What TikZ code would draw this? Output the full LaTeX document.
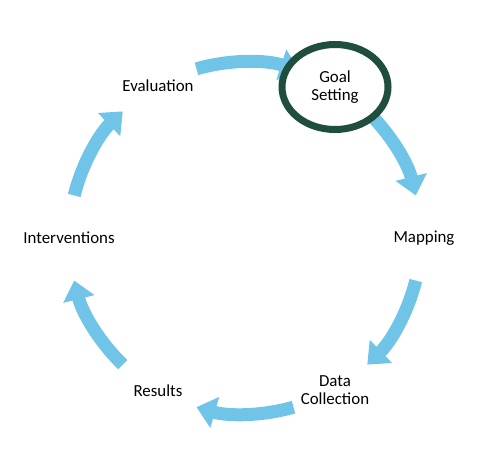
\documentclass[tikz,border=0pt]{standalone}
\usepackage{fontspec}
\setmainfont{Carlito}
\usepackage{xcolor}
\usepackage{tikz}
\usetikzlibrary{shapes,arrows.meta,positioning}

\definecolor{cycleblue}{RGB}{112,196,232}
\definecolor{ringgreen}{RGB}{31,78,60}

\begin{document}
\begin{tikzpicture}[
    stage/.style={font=\fontsize{9.6}{10.6}\selectfont, align=center},
    cyclearrow/.style={draw=cycleblue, line width=0.26cm, -{Triangle[length=0.38cm, width=0.62cm]}},
    goalring/.style={stage, ellipse, draw=ringgreen, fill=white, line width=0.14cm, minimum width=2.12cm, minimum height=1.7cm, inner sep=0pt}
]
\useasboundingbox (0,0) rectangle (10,9);
\coordinate (ctr) at (4.9, 4.24);

% Cycle arrows
\draw[cyclearrow] ([shift={(106:3.52)}]ctr) arc[start angle=106, end angle=72, radius=3.52];
\draw[cyclearrow] ([shift={(46:3.52)}]ctr) arc[start angle=46, end angle=14, radius=3.52];
\draw[cyclearrow] ([shift={(-14:3.52)}]ctr) arc[start angle=-14, end angle=-46, radius=3.52];
\draw[cyclearrow] ([shift={(-74:3.52)}]ctr) arc[start angle=-74, end angle=-106, radius=3.52];
\draw[cyclearrow] ([shift={(-134:3.52)}]ctr) arc[start angle=-134, end angle=-166, radius=3.52];
\draw[cyclearrow] ([shift={(166:3.52)}]ctr) arc[start angle=166, end angle=134, radius=3.52];

% Goal Setting
\node[goalring] (goal) at (6.70, 7.26) {Goal\\Setting};

% Other stages
\node[stage] (eval) at (3.16, 7.28) {Evaluation};
\node[stage] (mapping) at (8.48, 4.24) {Mapping};
\node[stage] (datacoll) at (6.70, 1.20) {Data\\Collection};
\node[stage] (results) at (3.16, 1.18) {Results};
\node[stage] (interv) at (1.38, 4.24) {Interventions};

\end{tikzpicture}
\end{document}
